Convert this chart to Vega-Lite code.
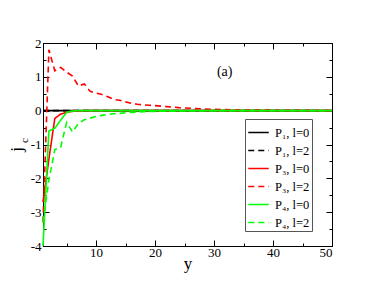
{
  "$schema": "https://vega.github.io/schema/vega-lite/v6.json",
  "width": 289,
  "height": 203,
  "autosize": {"type": "none"},
  "padding": {"left": 43, "top": 43, "right": 42, "bottom": 43},
  "config": {
    "view": {"stroke": "black", "strokeWidth": 1},
    "font": "Liberation Serif",
    "axis": {
      "grid": false,
      "domainColor": "black",
      "tickColor": "black",
      "labelColor": "black",
      "titleColor": "black",
      "labelFont": "Liberation Serif",
      "titleFont": "Liberation Serif",
      "titleFontWeight": "normal",
      "labelFontSize": 13,
      "offset": 0
    }
  },
  "datasets": {
    "curves": [
      {"curve": "P₁, l=0", "y": 1, "jc": 0}, {"curve": "P₁, l=0", "y": 5, "jc": 0}, {"curve": "P₁, l=0", "y": 10, "jc": 0}, {"curve": "P₁, l=0", "y": 20, "jc": 0}, {"curve": "P₁, l=0", "y": 30, "jc": 0}, {"curve": "P₁, l=0", "y": 40, "jc": 0}, {"curve": "P₁, l=0", "y": 50, "jc": 0},
      {"curve": "P₁, l=2", "y": 1, "jc": 0}, {"curve": "P₁, l=2", "y": 5, "jc": 0}, {"curve": "P₁, l=2", "y": 10, "jc": 0}, {"curve": "P₁, l=2", "y": 20, "jc": 0}, {"curve": "P₁, l=2", "y": 30, "jc": 0}, {"curve": "P₁, l=2", "y": 40, "jc": 0}, {"curve": "P₁, l=2", "y": 50, "jc": 0},
      {"curve": "P₃, l=0", "y": 1, "jc": -2.7}, {"curve": "P₃, l=0", "y": 2, "jc": -1.43}, {"curve": "P₃, l=0", "y": 3, "jc": -0.23}, {"curve": "P₃, l=0", "y": 4, "jc": -0.1}, {"curve": "P₃, l=0", "y": 5, "jc": -0.05}, {"curve": "P₃, l=0", "y": 6, "jc": -0.02}, {"curve": "P₃, l=0", "y": 7, "jc": -0.01}, {"curve": "P₃, l=0", "y": 8, "jc": 0}, {"curve": "P₃, l=0", "y": 10, "jc": 0}, {"curve": "P₃, l=0", "y": 20, "jc": 0}, {"curve": "P₃, l=0", "y": 30, "jc": 0}, {"curve": "P₃, l=0", "y": 40, "jc": 0}, {"curve": "P₃, l=0", "y": 50, "jc": 0},
      {"curve": "P₃, l=2", "y": 1, "jc": -3.3}, {"curve": "P₃, l=2", "y": 2, "jc": 1.8}, {"curve": "P₃, l=2", "y": 3, "jc": 1.18}, {"curve": "P₃, l=2", "y": 4, "jc": 1.28}, {"curve": "P₃, l=2", "y": 5, "jc": 1.14}, {"curve": "P₃, l=2", "y": 6, "jc": 1.02}, {"curve": "P₃, l=2", "y": 7, "jc": 0.73}, {"curve": "P₃, l=2", "y": 8, "jc": 0.79}, {"curve": "P₃, l=2", "y": 9, "jc": 0.57}, {"curve": "P₃, l=2", "y": 10, "jc": 0.52}, {"curve": "P₃, l=2", "y": 11, "jc": 0.48}, {"curve": "P₃, l=2", "y": 12, "jc": 0.41}, {"curve": "P₃, l=2", "y": 13, "jc": 0.33}, {"curve": "P₃, l=2", "y": 14, "jc": 0.31}, {"curve": "P₃, l=2", "y": 15, "jc": 0.26}, {"curve": "P₃, l=2", "y": 16, "jc": 0.22}, {"curve": "P₃, l=2", "y": 17, "jc": 0.19}, {"curve": "P₃, l=2", "y": 18, "jc": 0.17}, {"curve": "P₃, l=2", "y": 19, "jc": 0.16}, {"curve": "P₃, l=2", "y": 20, "jc": 0.15}, {"curve": "P₃, l=2", "y": 22, "jc": 0.12}, {"curve": "P₃, l=2", "y": 24, "jc": 0.09}, {"curve": "P₃, l=2", "y": 26, "jc": 0.07}, {"curve": "P₃, l=2", "y": 28, "jc": 0.05}, {"curve": "P₃, l=2", "y": 30, "jc": 0.04}, {"curve": "P₃, l=2", "y": 32, "jc": 0.03}, {"curve": "P₃, l=2", "y": 35, "jc": 0.02}, {"curve": "P₃, l=2", "y": 38, "jc": 0.02}, {"curve": "P₃, l=2", "y": 41, "jc": 0.01}, {"curve": "P₃, l=2", "y": 45, "jc": 0.01}, {"curve": "P₃, l=2", "y": 50, "jc": 0},
      {"curve": "P₄, l=0", "y": 1, "jc": -4}, {"curve": "P₄, l=0", "y": 2, "jc": -0.6}, {"curve": "P₄, l=0", "y": 3, "jc": -0.52}, {"curve": "P₄, l=0", "y": 4, "jc": -0.28}, {"curve": "P₄, l=0", "y": 5, "jc": -0.05}, {"curve": "P₄, l=0", "y": 6, "jc": -0.01}, {"curve": "P₄, l=0", "y": 7, "jc": 0}, {"curve": "P₄, l=0", "y": 10, "jc": 0}, {"curve": "P₄, l=0", "y": 20, "jc": 0}, {"curve": "P₄, l=0", "y": 30, "jc": 0}, {"curve": "P₄, l=0", "y": 40, "jc": 0}, {"curve": "P₄, l=0", "y": 50, "jc": 0},
      {"curve": "P₄, l=2", "y": 1, "jc": -3.3}, {"curve": "P₄, l=2", "y": 2, "jc": -2.05}, {"curve": "P₄, l=2", "y": 3, "jc": -1.15}, {"curve": "P₄, l=2", "y": 4, "jc": -1.08}, {"curve": "P₄, l=2", "y": 5, "jc": -0.35}, {"curve": "P₄, l=2", "y": 6, "jc": -0.63}, {"curve": "P₄, l=2", "y": 7, "jc": -0.38}, {"curve": "P₄, l=2", "y": 8, "jc": -0.27}, {"curve": "P₄, l=2", "y": 9, "jc": -0.22}, {"curve": "P₄, l=2", "y": 10, "jc": -0.17}, {"curve": "P₄, l=2", "y": 11, "jc": -0.14}, {"curve": "P₄, l=2", "y": 12, "jc": -0.11}, {"curve": "P₄, l=2", "y": 13, "jc": -0.09}, {"curve": "P₄, l=2", "y": 14, "jc": -0.08}, {"curve": "P₄, l=2", "y": 15, "jc": -0.06}, {"curve": "P₄, l=2", "y": 16, "jc": -0.05}, {"curve": "P₄, l=2", "y": 18, "jc": -0.03}, {"curve": "P₄, l=2", "y": 20, "jc": -0.02}, {"curve": "P₄, l=2", "y": 25, "jc": -0.01}, {"curve": "P₄, l=2", "y": 30, "jc": 0}, {"curve": "P₄, l=2", "y": 40, "jc": 0}, {"curve": "P₄, l=2", "y": 50, "jc": 0}
    ]
  },
  "layer": [
    {
      "data": {"name": "curves"},
      "mark": {"type": "line", "strokeWidth": 1.6},
      "encoding": {
        "x": {
          "field": "y", "type": "quantitative",
          "scale": {"domain": [1, 50], "nice": false, "zero": false},
          "axis": {
            "orient": "bottom",
            "values": [5, 10, 15, 20, 25, 30, 35, 40, 45, 50],
            "labelExpr": "datum.value % 10 === 0 ? datum.label : ''",
            "tickSize": {"condition": {"test": "datum.value % 10 === 0", "value": -6}, "value": -3},
            "labelPadding": 6,
            "title": "y",
            "titleFontSize": 17,
            "titleBaseline": "alphabetic",
            "titleY": 22
          }
        },
        "y": {
          "field": "jc", "type": "quantitative",
          "scale": {"domain": [-4, 2], "nice": false, "zero": false},
          "axis": {
            "orient": "left",
            "values": [-4, -3.5, -3, -2.5, -2, -1.5, -1, -0.5, 0, 0.5, 1, 1.5, 2],
            "labelExpr": "datum.value % 1 === 0 ? replace(format(datum.value, 'd'), '−', '-') : ''",
            "tickSize": {"condition": {"test": "datum.value % 1 === 0", "value": -6}, "value": -3},
            "labelPadding": 8,
            "title": "j",
            "titleFontSize": 17,
            "titleAngle": -90,
            "titleAlign": "center",
            "titleBaseline": "alphabetic",
            "titleX": -22,
            "titleY": 106
          }
        },
        "color": {
          "field": "curve", "type": "nominal",
          "scale": {
            "domain": ["P₁, l=0", "P₁, l=2", "P₃, l=0", "P₃, l=2", "P₄, l=0", "P₄, l=2"],
            "range": ["#000000", "#000000", "#ff0000", "#ff0000", "#00ff00", "#00ff00"]
          },
          "legend": {
            "title": null, "orient": "none", "legendX": 202, "legendY": 76,
            "strokeColor": "#555555", "fillColor": "white", "padding": 2,
            "symbolType": "stroke", "symbolSize": 420, "symbolStrokeWidth": 1.6,
            "labelFont": "Liberation Serif", "labelFontSize": 12.5, "labelColor": "black",
            "labelOffset": 5, "rowPadding": -7.2
          }
        },
        "strokeDash": {
          "field": "curve", "type": "nominal",
          "scale": {
            "domain": ["P₁, l=0", "P₁, l=2", "P₃, l=0", "P₃, l=2", "P₄, l=0", "P₄, l=2"],
            "range": [[1, 0], [6, 4], [1, 0], [6, 4], [1, 0], [6, 4]]
          },
          "legend": {
            "title": null, "orient": "none", "legendX": 202, "legendY": 76,
            "strokeColor": "#555555", "fillColor": "white", "padding": 2,
            "symbolType": "stroke", "symbolSize": 420, "symbolStrokeWidth": 1.6,
            "labelFont": "Liberation Serif", "labelFontSize": 12.5, "labelColor": "black",
            "labelOffset": 5, "rowPadding": -7.2
          }
        }
      }
    },
    {
      "data": {"values": [{"label": "(a)"}]},
      "mark": {"type": "text", "font": "Liberation Serif", "fontSize": 14, "color": "black"},
      "encoding": {
        "x": {
          "datum": 31.8, "type": "quantitative",
          "scale": {"domain": [1, 50], "nice": false, "zero": false},
          "axis": {
            "orient": "top",
            "values": [5, 10, 15, 20, 25, 30, 35, 40, 45, 50],
            "labels": false,
            "tickSize": {"condition": {"test": "datum.value % 10 === 0", "value": -6}, "value": -3},
            "title": null
          }
        },
        "y": {
          "datum": 1.13, "type": "quantitative",
          "scale": {"domain": [-4, 2], "nice": false, "zero": false},
          "axis": {
            "orient": "right",
            "values": [-4, -3.5, -3, -2.5, -2, -1.5, -1, -0.5, 0, 0.5, 1, 1.5, 2],
            "labels": false,
            "tickSize": {"condition": {"test": "datum.value % 1 === 0", "value": -6}, "value": -3},
            "title": "c",
            "titleFontSize": 11,
            "titleAngle": -90,
            "titleAlign": "center",
            "titleBaseline": "alphabetic",
            "titleX": -305,
            "titleY": 97
          }
        },
        "text": {"field": "label"}
      }
    }
  ],
  "resolve": {"axis": {"x": "independent", "y": "independent"}}
}
